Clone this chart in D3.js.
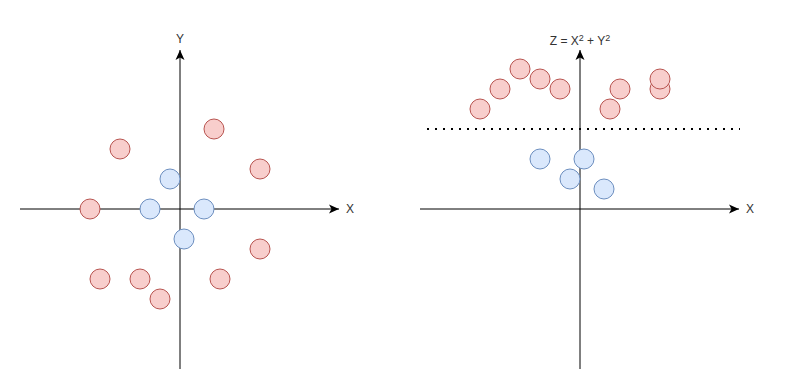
<!DOCTYPE html>
<html>
<head>
<meta charset="utf-8">
<script src="https://cdn.jsdelivr.net/npm/d3@7"></script>
<style>
    body { margin: 0; background: #fff; }
    text { font-family: "Liberation Sans", Arial, Helvetica, sans-serif; font-size: 12px; fill: #333; }
</style>
</head>
<body>
<div class="plot"></div>
<script>
// left panel: original (x, y) points
const leftOuter = [[3.4, 8], [-6, 6], [8, 4], [-9, 0], [8, -4], [-8, -7], [-4, -7], [4, -7], [-2, -9]];
const leftInner = [[-1, 3], [-3, 0], [2.4, 0], [0.4, -3]];

// right panel: (x, z) after mapping z = x^2 + y^2
const rightOuter = [[-6, 14], [-4, 13], [-8, 12], [-2, 12], [-10, 10], [4, 12], [3, 10], [8, 12], [8, 13]];
const rightInner = [[-4, 5], [0.4, 5], [-1, 3], [2.4, 2]];

const separatorZ = 8;
const axisLabels = { leftX: "X", leftY: "Y", rightX: "X" };

const svg = d3
    .select(".plot")
    .append("svg")
    .attr("width", 791)
    .attr("height", 391);

svg.append("defs")
    .append("marker")
    .attr("id", "arrow")
    .attr("markerUnits", "userSpaceOnUse")
    .attr("viewBox", "-11 -6 12 12")
    .attr("refX", 0)
    .attr("refY", 0)
    .attr("markerWidth", 12)
    .attr("markerHeight", 12)
    .attr("orient", "auto")
    .append("path")
    .attr("d", "M0,0 L-10,-4.5 L-7.5,0 L-10,4.5 Z")
    .attr("fill", "#000");

const yScale = d3.scaleLinear().domain([-16, 16]).range([369, 49]);
const xLeft = d3.scaleLinear().domain([-16, 16]).range([20, 340]);
const xRight = d3.scaleLinear().domain([-16, 16]).range([420, 740]);

function drawAxes(x) {
    const g = svg.append("g");
    g.append("line")
        .attr("x1", x(-16)).attr("x2", x(16) - 1)
        .attr("y1", yScale(0)).attr("y2", yScale(0))
        .attr("stroke", "#000")
        .attr("marker-end", "url(#arrow)");
    g.append("line")
        .attr("x1", x(0)).attr("x2", x(0))
        .attr("y1", yScale(-16)).attr("y2", yScale(16) + 1)
        .attr("stroke", "#000")
        .attr("marker-end", "url(#arrow)");
    g.append("text")
        .attr("x", x(16) + 6)
        .attr("y", yScale(0) + 4)
        .text("X");
    return g;
}

function drawPoints(x, pts, fill, stroke) {
    svg.append("g")
        .selectAll("circle")
        .data(pts)
        .join("circle")
        .attr("cx", (d) => x(d[0]))
        .attr("cy", (d) => yScale(d[1]))
        .attr("r", 10)
        .attr("fill", fill)
        .attr("stroke", stroke)
        .attr("stroke-width", 1);
}

drawAxes(xLeft);
svg.append("text")
    .attr("x", xLeft(0))
    .attr("y", 43)
    .attr("text-anchor", "middle")
    .text(axisLabels.leftY);

drawAxes(xRight);
const zLabel = svg.append("text")
    .attr("x", xRight(0))
    .attr("y", 45)
    .attr("text-anchor", "middle");
zLabel.append("tspan").text("Z = X");
zLabel.append("tspan").attr("dy", -4).style("font-size", "9px").text("2");
zLabel.append("tspan").attr("dy", 4).text(" + Y");
zLabel.append("tspan").attr("dy", -4).style("font-size", "9px").text("2");

// dotted separator
svg.append("line")
    .attr("x1", xRight(-15.3))
    .attr("x2", xRight(16))
    .attr("y1", yScale(separatorZ))
    .attr("y2", yScale(separatorZ))
    .attr("stroke", "#000")
    .attr("stroke-width", 2)
    .attr("stroke-dasharray", "2 6");

drawPoints(xLeft, leftOuter, "#f8cecc", "#b85450");
drawPoints(xLeft, leftInner, "#dae8fc", "#6c8ebf");
drawPoints(xRight, rightOuter, "#f8cecc", "#b85450");
drawPoints(xRight, rightInner, "#dae8fc", "#6c8ebf");
</script>
</body>
</html>
